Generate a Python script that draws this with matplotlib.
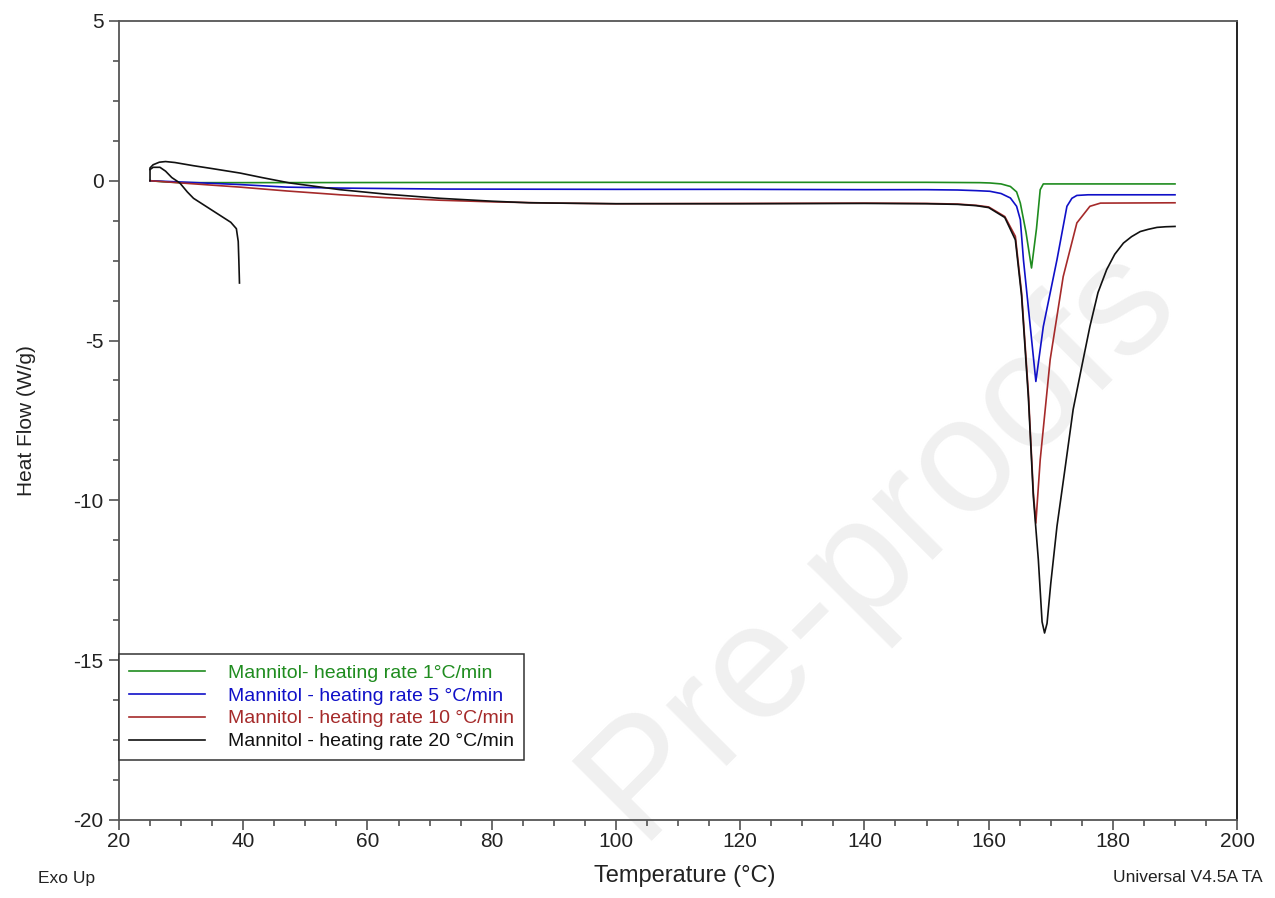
import matplotlib
matplotlib.use("Agg")
import matplotlib.pyplot as plt
from matplotlib.ticker import AutoMinorLocator

plt.rcParams['font.family'] = ['Liberation Sans', 'DejaVu Sans']
plt.rcParams['axes.unicode_minus'] = False

# ---- data ----
t_green = [25.0, 27.0, 30.0, 40.0, 100.0, 150.0, 158.6, 160.2, 162.0, 163.5, 164.5,
           165.1, 166.0, 166.9, 167.7, 168.3, 168.8, 175.0, 190.0]
hf_green = [0.0, -0.03, -0.06, -0.06, -0.05, -0.05, -0.06, -0.07, -0.10, -0.18, -0.35,
            -0.70, -1.60, -2.73, -1.50, -0.28, -0.10, -0.10, -0.10]

t_blue = [25.0, 30.0, 39.5, 47.0, 55.6, 72.0, 100.0, 120.0, 140.0, 150.0, 155.0, 158.0,
          160.2, 162.0, 163.5, 164.5, 165.1, 165.6, 166.7, 167.6, 168.8, 171.0, 172.6,
          173.4, 174.2, 176.0, 190.0]
hf_blue = [0.0, -0.04, -0.12, -0.20, -0.23, -0.26, -0.27, -0.27, -0.28, -0.28, -0.29, -0.31,
           -0.33, -0.40, -0.54, -0.80, -1.22, -2.47, -4.56, -6.28, -4.56, -2.47, -0.80,
           -0.55, -0.46, -0.44, -0.44]

t_red = [25.0, 30.0, 39.5, 47.0, 55.6, 63.0, 71.7, 80.0, 90.0, 100.0, 120.0, 140.0, 150.0,
         155.0, 158.0, 160.0, 162.6, 164.3, 165.3, 166.4, 167.2, 167.6, 168.3, 169.9,
         172.0, 174.2, 176.3, 178.0, 190.0]
hf_red = [0.0, -0.07, -0.20, -0.32, -0.44, -0.53, -0.61, -0.66, -0.70, -0.72, -0.71, -0.70,
          -0.71, -0.73, -0.77, -0.82, -1.12, -1.74, -3.50, -6.65, -9.77, -10.71, -8.73,
          -5.60, -3.00, -1.32, -0.80, -0.70, -0.69]

t_black = [25.0, 25.0, 25.5, 26.5, 27.5, 29.0, 32.0, 35.0, 39.5, 43.0, 47.5, 55.6, 63.0,
           71.7, 80.0, 86.0, 100.0, 120.0, 140.0, 150.0, 155.0, 158.0, 160.0, 162.6,
           164.3, 165.3, 166.4, 167.2, 168.0, 168.6, 169.0, 169.4, 170.0, 171.0, 172.3,
           173.6, 175.0, 176.3, 177.6, 179.0, 180.3, 181.7, 183.0, 184.4, 185.7, 187.1,
           188.5, 190.0]
hf_black = [0.0, 0.40, 0.50, 0.58, 0.60, 0.57, 0.47, 0.38, 0.24, 0.10, -0.07, -0.28, -0.42,
            -0.55, -0.64, -0.69, -0.72, -0.72, -0.71, -0.72, -0.74, -0.78, -0.84, -1.15,
            -1.85, -3.60, -6.80, -9.90, -11.86, -13.80, -14.15, -13.85, -12.60, -10.81,
            -9.00, -7.16, -5.80, -4.56, -3.50, -2.78, -2.30, -1.95, -1.75, -1.59, -1.52,
            -1.46, -1.44, -1.43]

# short start-up transient of the 20 °C/min run
t_black2 = [25.0, 25.5, 26.6, 27.5, 28.5, 29.8, 31.0, 32.0, 34.0, 36.0, 38.0, 38.9,
            39.2, 39.3, 39.4]
hf_black2 = [0.35, 0.42, 0.42, 0.30, 0.10, -0.07, -0.35, -0.55, -0.80, -1.05, -1.30,
             -1.50, -1.90, -2.50, -3.20]

labels = ["Mannitol- heating rate 1°C/min",
          "Mannitol - heating rate 5 °C/min",
          "Mannitol - heating rate 10 °C/min",
          "Mannitol - heating rate 20 °C/min"]
colors = ["#1f8c1f", "#1010c8", "#a52a2a", "#111111"]

xticks = [20, 40, 60, 80, 100, 120, 140, 160, 180, 200]
yticks = [-20, -15, -10, -5, 0, 5]

# ---- figure ----
fig = plt.figure(figsize=(12.75, 8.98), dpi=100)
ax = fig.add_axes([0.0933, 0.0869, 0.877, 0.8898])

# watermark
ax.text(0.68, 0.35, "Pre-proofs", transform=ax.transAxes, fontsize=118,
        color="#f0f0f0", rotation=45, ha="center", va="center", zorder=0)

series = [(t_green, hf_green), (t_blue, hf_blue), (t_red, hf_red), (t_black, hf_black)]
handles = []
for (t, hf), c, lab in zip(series, colors, labels):
    h, = ax.plot(t, hf, color=c, lw=1.2, label=lab, zorder=3)
    handles.append(h)
ax.plot(t_black2, hf_black2, color=colors[3], lw=1.2, zorder=3)

ax.set_xlim(20, 200)
ax.set_ylim(-20, 5)
ax.set_xticks(xticks)
ax.set_yticks(yticks)
ax.xaxis.set_minor_locator(AutoMinorLocator(4))
ax.yaxis.set_minor_locator(AutoMinorLocator(4))
ax.tick_params(which="major", direction="out", length=7, width=1.1, color="#444444",
               labelsize=15, labelcolor="#222222")
ax.tick_params(axis="x", which="major", pad=2)
ax.tick_params(axis="y", which="major", pad=4)
ax.tick_params(which="minor", direction="out", length=4, width=1.1, color="#444444")
for s in ["left", "bottom", "top"]:
    ax.spines[s].set_color("#555555")
    ax.spines[s].set_linewidth(1.3)
ax.spines["right"].set_color("#111111")
ax.spines["right"].set_linewidth(1.3)

ax.set_xlabel("Temperature (°C)", fontsize=17, color="#222222")
ax.xaxis.set_label_coords(0.506, -0.056)
ax.set_ylabel("Heat Flow (W/g)", fontsize=15, color="#222222")
ax.yaxis.set_label_coords(-0.074, 0.5)

leg = ax.legend(handles=handles, loc="lower left", bbox_to_anchor=(0.0, 0.075),
                borderaxespad=0, fontsize=14, handlelength=3.9, handletextpad=1.2,
                labelspacing=0.27, borderpad=0.5, fancybox=False, framealpha=1,
                edgecolor="#333333")
leg.get_frame().set_linewidth(1.1)
for txt, c in zip(leg.get_texts(), colors):
    txt.set_color(c)

fig.text(38 / 1275, 1 - 879 / 898, "Exo Up", fontsize=12.5, color="#222222",
         ha="left", va="center")
fig.text(1263 / 1275, 1 - 877 / 898, "Universal V4.5A TA", fontsize=12.5,
         color="#222222", ha="right", va="center")

fig.savefig("out.png", dpi=100, facecolor="white")
